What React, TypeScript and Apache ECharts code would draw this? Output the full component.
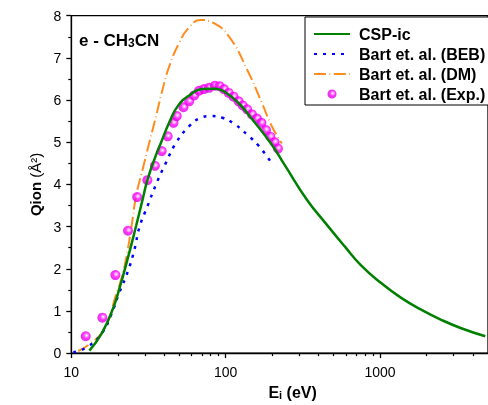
import React, { useEffect, useRef } from "react";
import * as echarts from "echarts";

// Electron energy (eV) and Qion (Å²)
const cspE = [13.1, 15.7, 18.6, 20.6, 23.3, 26.3, 29.0, 31.2, 35.4, 38.2, 43.0, 48.8, 58.0, 70.6, 86.0, 99.8, 121, 148, 198, 242, 334, 439, 590, 753, 1016, 1370, 1846, 2488, 3353, 4800];
const cspQ = [0.06, 0.46, 1.05, 1.56, 2.27, 3.02, 3.65, 4.12, 4.70, 5.00, 5.46, 5.85, 6.11, 6.26, 6.27, 6.18, 5.93, 5.55, 4.95, 4.45, 3.65, 3.10, 2.53, 2.08, 1.66, 1.31, 1.03, 0.79, 0.59, 0.40];

const bebE = [10.3, 12.6, 15.7, 18.2, 20.1, 23.3, 25.7, 27.6, 31.2, 35.4, 40.6, 48.0, 58.0, 67.2, 80, 95, 115, 137.7, 164, 197];
const bebQ = [0.02, 0.14, 0.46, 0.93, 1.36, 1.95, 2.47, 2.98, 3.49, 4.0, 4.48, 5.0, 5.38, 5.56, 5.62, 5.58, 5.42, 5.18, 4.91, 4.52];

const dmE = [11.1, 15.3, 17.7, 19.1, 21.1, 22.5, 24.4, 26.3, 29.0, 31.6, 35.4, 39.0, 43.1, 49.9, 57.9, 68.8, 81.8, 104.8, 137.7, 171.6, 199, 231];
const dmQ = [0.05, 0.42, 0.86, 1.28, 1.76, 2.19, 2.94, 3.73, 4.36, 4.91, 5.62, 6.25, 6.80, 7.35, 7.72, 7.90, 7.84, 7.51, 6.72, 5.93, 5.38, 4.97];

const expE = [12.4, 15.9, 19.3, 23.3, 26.7, 31.1, 34.8, 38.5, 42.1, 45.9, 48.2, 53.3, 58.0, 62.5, 67.2, 72.3, 78.0, 85.1, 91.3, 97.4, 104.6, 112.5, 121.2, 128.9, 137.7, 148.0, 159.3, 170.3, 182.3, 194.9, 207.5, 218];
const expQ = [0.40, 0.84, 1.85, 2.90, 3.70, 4.10, 4.44, 4.79, 5.14, 5.46, 5.62, 5.83, 5.97, 6.11, 6.22, 6.26, 6.29, 6.34, 6.33, 6.26, 6.17, 6.08, 5.97, 5.87, 5.78, 5.66, 5.56, 5.46, 5.29, 5.13, 5.00, 4.85];

const xMajor = [10, 100, 1000];
const xMinor = [20, 30, 40, 50, 60, 70, 80, 90, 200, 300, 400, 500, 600, 700, 800, 900, 2000, 3000, 4000];

const FONT = "'Liberation Sans', Arial, sans-serif";

const pairs = (xs: number[], ys: number[]) => xs.map((x, i) => [x, ys[i]]);

export default function App() {
  const ref = useRef<HTMLDivElement>(null);
  useEffect(() => {
    if (!ref.current) return;
    const chart = echarts.init(ref.current, null, { renderer: "svg" });
    const axisLine = { lineStyle: { color: "#000", width: 1.3 } };
    const hiddenSymbol = { opacity: 0 };
    chart.setOption({
      animation: false,
      textStyle: { fontFamily: FONT },
      grid: {
        left: 71.3,
        right: -3,
        top: 15.7,
        bottom: 50.7,
        show: true,
        borderColor: "#000",
        borderWidth: 1.3,
        backgroundColor: "transparent",
      },
      title: {
        text: "{b|e - CH}{s|3}{b|CN}",
        left: 79,
        top: 27,
        padding: 0,
        textStyle: {
          rich: {
            b: { fontFamily: FONT, fontSize: 17, fontWeight: "bold", color: "#000", lineHeight: 22, verticalAlign: "bottom" },
            s: { fontFamily: FONT, fontSize: 12, fontWeight: "bold", color: "#000", lineHeight: 14, verticalAlign: "bottom" },
          },
        },
      },
      legend: {
        orient: "vertical",
        left: 305,
        top: 17,
        padding: [9, 8, 3, 8],
        itemGap: 4,
        itemWidth: 36,
        itemHeight: 9,
        borderColor: "#000",
        borderWidth: 1,
        backgroundColor: "#fff",
        data: [
          { name: "CSP-ic", itemStyle: hiddenSymbol },
          { name: "Bart et. al. (BEB)", itemStyle: hiddenSymbol },
          { name: "Bart et. al. (DM)", itemStyle: hiddenSymbol },
          { name: "Bart et. al. (Exp.)", icon: "circle" },
        ],
        textStyle: { fontFamily: FONT, fontSize: 16, fontWeight: "bold", color: "#000", padding: [0, 0, 0, 4] },
      },
      xAxis: [
        {
          type: "log",
          logBase: 10,
          min: 10,
          max: 5000,
          name: "{b|E}{s|i}{b| (eV)}",
          nameLocation: "middle",
          nameGap: 25,
          nameTextStyle: {
            padding: [0, 0, 0, 26],
            rich: {
              b: { fontFamily: FONT, fontSize: 16, fontWeight: "bold", color: "#000", lineHeight: 20, verticalAlign: "bottom" },
              s: { fontFamily: FONT, fontSize: 11, fontWeight: "bold", color: "#000", lineHeight: 10, verticalAlign: "bottom" },
            },
          },
          axisLine: { show: true, ...axisLine },
          axisTick: { show: true, length: 5, customValues: xMajor, lineStyle: { color: "#000", width: 1.3 } },
          axisLabel: {
            customValues: xMajor,
            formatter: (v: number) => String(Math.round(v)),
            fontSize: 14,
            color: "#000",
            margin: 12,
            fontFamily: FONT,
          },
          splitLine: { show: false },
        },
        {
          type: "log",
          logBase: 10,
          min: 10,
          max: 5000,
          position: "bottom",
          axisLine: { show: false },
          axisTick: { show: true, length: 3, customValues: xMinor, lineStyle: { color: "#000", width: 1.2 } },
          axisLabel: { show: false },
          splitLine: { show: false },
        },
      ],
      yAxis: {
        type: "value",
        min: 0,
        max: 8,
        interval: 1,
        name: "{b|Qion }{n|(Å²)}",
        nameLocation: "middle",
        nameRotate: 90,
        nameGap: 28,
        nameTextStyle: {
          rich: {
            b: { fontFamily: FONT, fontSize: 15, fontWeight: "bold", color: "#000" },
            n: { fontFamily: FONT, fontSize: 15, color: "#000" },
          },
        },
        axisLine: { show: true, ...axisLine },
        axisTick: { show: true, length: 5, lineStyle: { color: "#000", width: 1.3 } },
        minorTick: { show: true, splitNumber: 2, length: 3, lineStyle: { color: "#000", width: 1.2 } },
        axisLabel: { fontSize: 14, color: "#000", margin: 10, fontFamily: FONT },
        splitLine: { show: false },
        minorSplitLine: { show: false },
      },
      series: [
        {
          name: "Bart et. al. (DM)",
          type: "line",
          data: pairs(dmE, dmQ),
          symbol: "none",
          smooth: 0.5,
          lineStyle: { color: "#ff8c1f", width: 2, type: [12, 3.5, 0.8, 3.5] },
          itemStyle: { color: "#ff8c1f" },
          z: 2,
        },
        {
          name: "Bart et. al. (BEB)",
          type: "line",
          data: pairs(bebE, bebQ),
          symbol: "none",
          smooth: 0.5,
          lineStyle: { color: "#0000ff", width: 2.5, type: [3, 6] },
          itemStyle: { color: "#0000ff" },
          z: 3,
        },
        {
          name: "Bart et. al. (Exp.)",
          type: "scatter",
          data: pairs(expE, expQ),
          symbol: "circle",
          symbolSize: 10,
          itemStyle: {
            color: {
              type: "radial",
              x: 0.58,
              y: 0.42,
              r: 0.6,
              colorStops: [
                { offset: 0, color: "#ffffff" },
                { offset: 0.2, color: "#ff99ff" },
                { offset: 0.5, color: "#ff00ff" },
                { offset: 1, color: "#dd00dd" },
              ],
            },
          },
          z: 4,
        },
        {
          name: "CSP-ic",
          type: "line",
          data: pairs(cspE, cspQ),
          symbol: "none",
          smooth: 0.5,
          lineStyle: { color: "#008000", width: 2.5 },
          itemStyle: { color: "#008000" },
          z: 5,
        },
      ],
    });
    return () => chart.dispose();
  }, []);
  return <div ref={ref} style={{ position: "fixed", left: 0, top: 0, width: 488, height: 405 }} />;
}
